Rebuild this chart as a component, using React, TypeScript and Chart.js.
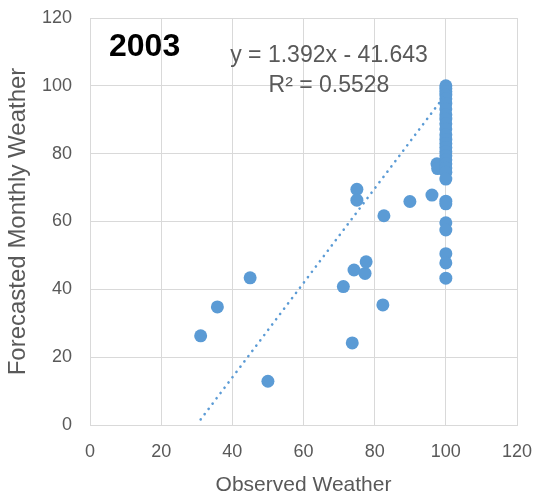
import React, { useEffect, useRef } from "react";
import { Chart, registerables } from "chart.js";

Chart.register(...registerables);

// ---- data ----
const observedWeather: number[] = [
  31.1, 35.8, 45.0, 50.0, 71.2, 73.7, 74.2, 75.0, 75.0, 77.3, 77.6, 82.3, 82.6,
  89.9, 96.1, 97.5, 97.7,
  100, 100, 100, 100, 100, 100, 100, 100, 100, 100, 100, 100, 100, 100, 100,
  100, 100, 100, 100, 100, 100, 100, 100, 100, 100, 100, 100, 100, 100, 100,
];
const forecastedWeather: number[] = [
  26.3, 34.8, 43.4, 12.9, 40.8, 24.2, 45.7, 69.5, 66.3, 44.7, 48.1, 35.4, 61.7,
  65.9, 67.8, 77.0, 75.6,
  100, 99.2, 98.3, 97.3, 96.2, 94.8, 93.2, 91.5, 90.2, 88.8, 87.3, 85.6, 84.2,
  83.0, 81.8, 80.6, 79.4, 78.2, 77.0, 75.8, 74.5, 72.5, 66.0, 65.2, 59.6, 57.5,
  50.5, 47.8, 43.3,
];
const TREND_SLOPE = 1.392;
const TREND_INTERCEPT = -41.643;
const R_SQUARED = 0.5528;
const chartTitle = "2003";
const xAxisTitle = "Observed Weather";
const yAxisTitle = "Forecasted Monthly Weather";
const axisMin = 0;
const axisMax = 120;
const axisStep = 20;

const BLUE = "#5b9bd5";
const GRAY_TEXT = "#595959";
const GRID = "#d9d9d9";
const FONT = "'Liberation Sans', Arial, sans-serif";

export default function App() {
  const ref = useRef<HTMLCanvasElement | null>(null);

  useEffect(() => {
    document.body.style.margin = "0";
    if (!ref.current) return;

    const points = observedWeather.map((x, i) => ({ x, y: forecastedWeather[i] }));
    const xMin = Math.min(...observedWeather);
    const xMax = Math.max(...observedWeather);
    const trend = [xMin, xMax].map((x) => ({ x, y: TREND_SLOPE * x + TREND_INTERCEPT }));

    const textPlugin = {
      id: "annotations",
      afterDraw(chart: any) {
        const ctx = chart.ctx as CanvasRenderingContext2D;
        ctx.save();
        ctx.textBaseline = "middle";
        ctx.fillStyle = "#000000";
        ctx.textAlign = "left";
        ctx.font = `bold 32px ${FONT}`;
        ctx.fillText(chartTitle, 109, 47);
        ctx.fillStyle = GRAY_TEXT;
        ctx.textAlign = "center";
        ctx.font = `23px ${FONT}`;
        const sign = TREND_INTERCEPT < 0 ? "- " : "+ ";
        ctx.fillText(
          `y = ${TREND_SLOPE.toFixed(3)}x ${sign}${Math.abs(TREND_INTERCEPT).toFixed(3)}`,
          329,
          56
        );
        ctx.fillText(`R² = ${R_SQUARED.toFixed(4)}`, 329, 86);
        ctx.restore();
      },
    };

    const chart = new Chart(ref.current, {
      type: "scatter",
      data: {
        datasets: [
          {
            type: "line",
            label: "trend",
            data: trend,
            borderColor: BLUE,
            borderWidth: 2.6,
            borderDash: [0.1, 6.5],
            borderCapStyle: "round",
            pointRadius: 0,
            fill: false,
            order: 0,
          } as any,
          {
            label: "points",
            data: points,
            backgroundColor: BLUE,
            borderColor: BLUE,
            borderWidth: 0,
            pointRadius: 6.5,
            order: 1,
          },
        ],
      },
      plugins: [textPlugin],
      options: {
        responsive: false,
        animation: false,
        layout: { padding: { top: 18, right: 31, bottom: 0, left: 0 } },
        plugins: {
          legend: { display: false },
          tooltip: { enabled: false },
        },
        scales: {
          x: {
            type: "linear",
            min: axisMin,
            max: axisMax,
            ticks: {
              stepSize: axisStep,
              color: GRAY_TEXT,
              padding: 16,
              font: { family: FONT, size: 18 },
            },
            grid: { color: GRID, lineWidth: 1, drawTicks: false },
            border: { display: true, color: GRID },
            title: {
              display: true,
              text: xAxisTitle,
              color: GRAY_TEXT,
              padding: { top: 0, bottom: 0 },
              font: { family: FONT, size: 21 },
            },
            afterFit(scale: any) {
              scale.height = 73;
              scale.paddingLeft = 0;
              scale.paddingRight = 0;
            },
          },
          y: {
            type: "linear",
            min: axisMin,
            max: axisMax,
            ticks: {
              stepSize: axisStep,
              color: GRAY_TEXT,
              padding: 18,
              font: { family: FONT, size: 18 },
            },
            grid: { color: GRID, lineWidth: 1, drawTicks: false },
            border: { display: true, color: GRID },
            title: {
              display: true,
              text: yAxisTitle,
              color: GRAY_TEXT,
              padding: { top: 4, bottom: 0 },
              font: { family: FONT, size: 24 },
            },
            afterFit(scale: any) {
              scale.width = 90;
              scale.paddingTop = 0;
              scale.paddingBottom = 0;
            },
          },
        },
      },
    });

    return () => chart.destroy();
  }, []);

  return (
    <div style={{ width: 548, height: 498, background: "#ffffff" }}>
      <canvas ref={ref} width={548} height={498} style={{ display: "block" }} />
    </div>
  );
}
